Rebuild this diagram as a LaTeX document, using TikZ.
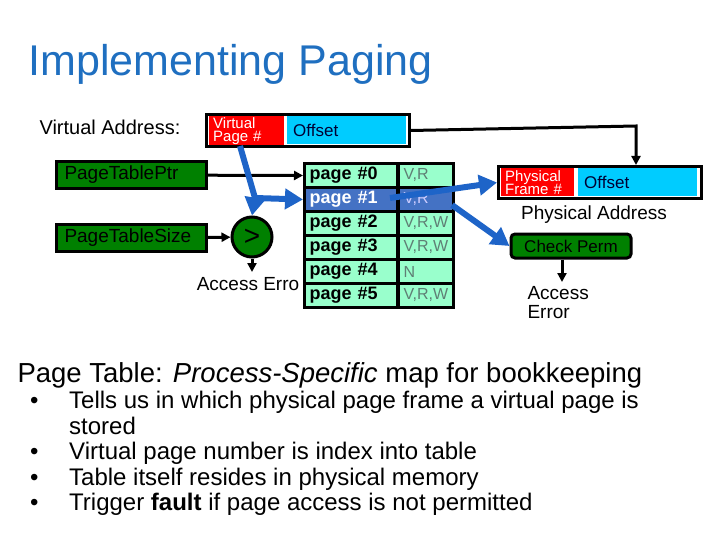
\documentclass[tikz,border=0pt]{standalone}
\usepackage{fontspec}
\setmainfont{Liberation Sans}
\usetikzlibrary{arrows.meta}
\definecolor{ttl}{HTML}{1F6FC0}
\definecolor{aq}{HTML}{99FFCC}
\definecolor{selb}{HTML}{4472C4}
\definecolor{gbox}{HTML}{008000}
\definecolor{cy}{HTML}{00CCFF}
\definecolor{rd}{HTML}{FF0000}
\definecolor{barr}{HTML}{1E64C8}
\definecolor{flg}{HTML}{5F7F75}
\tikzset{
 fs/.style={font=\fontsize{#1}{#1}\selectfont},
 cell/.style={draw=black,line width=3pt,fill=aq,minimum height=24pt,anchor=north west,inner ysep=2pt,inner xsep=5pt},
 gb/.style={draw=black,line width=3pt,fill=gbox,inner ysep=3pt,inner xsep=8pt,anchor=north west,minimum height=27pt,minimum width=150pt,text width=134pt,align=left,fs=19},
 blk/.style={line width=3pt,-{Triangle[length=9pt,width=9pt]}},
 blu/.style={barr,line width=6pt,-{Triangle[length=18pt,width=20pt]}},
 rbox/.style={fill=rd,anchor=north west,inner ysep=1pt,inner xsep=4pt,text=white,fs=15,align=left,minimum height=28pt},
 cbox/.style={fill=cy,anchor=north west,inner ysep=4pt,inner xsep=6pt,fs=17,text=black!80!blue,minimum height=28pt,align=left}
}
\begin{document}
\begin{tikzpicture}[x=1pt,y=-1pt]
\useasboundingbox (0,0) rectangle (720,540);
\node[anchor=base west,text=ttl,fs=43] (title) at (25,76) {Implementing Paging};
\node[anchor=base west,fs=20] (va) at (36,135) {Virtual Address:};
% virtual address box
\node[draw=black,line width=3pt,anchor=north west,minimum width=203pt,minimum height=32pt,inner sep=0] (vab) at (205,113) {};
\node[rbox,minimum width=75pt,text width=67pt] (vpn) at (209,116) {Virtual\\[-2pt]Page \#};
\node[cbox,minimum width=119pt,text width=107pt] (voff) at (287,116) {Offset};
% table
\foreach \i/\f in {0/{V,R},1/{V,R},2/{V,R,W},3/{V,R,W},4/N,5/{V,R,W}}{
 \node[cell,minimum width=93pt,font=\bfseries\fontsize{18}{18}\selectfont,align=left,text width=83pt] (p\i) at (303,162+24*\i) {page \#\i};
 \node[cell,minimum width=55pt,fs=16,text=flg,text width=45pt,align=left,inner xsep=3pt] (f\i) at (397,162+24*\i) {\f};
}
\node[cell,fill=selb,minimum width=93pt,font=\bfseries\fontsize{18}{18}\selectfont,text=white,text width=83pt,align=left] at (303,186) {page \#1};
\node[cell,fill=selb,minimum width=55pt,fs=16,text=white!80!blue,text width=45pt,align=left,inner xsep=3pt] at (397,186) {V,R};
% green boxes
\node[gb] (ptp) at (55,160) {PageTablePtr};
\node[gb] (pts) at (55,223) {PageTableSize};
\node[circle,draw=black,line width=3pt,fill=gbox,minimum size=40pt,inner sep=0,fs=28] (cmp) at (252,237) {>};
\coordinate (ae1) at (252,272);
\node[fs=19,anchor=base] (acc) at (248,290) {Access Erro};
% redraw table cell over text
\node[cell,minimum width=93pt,font=\bfseries\fontsize{18}{18}\selectfont,align=left,text width=83pt] at (303,282) {page \#5};
\draw[blk] (ptp) -- (p0.west);
\draw[blk] (pts) -- (cmp);
\draw[blk] (cmp) -- (ae1);
% blue arrows
\coordinate (bj) at (255,198);
\draw[barr,line width=6pt] (240,146) -- (bj);
\draw[blu] (bj) -- (cmp.north);
\draw[blu] (bj) -- (p1.west);
% physical
\node[draw=black,line width=3pt,anchor=north west,minimum width=203pt,minimum height=32pt,inner sep=0] (pab) at (497,165) {};
\node[rbox,minimum width=73pt,text width=65pt] (pfn) at (501,168) {Physical\\[-2pt]Frame \#};
\node[cbox,minimum width=119pt,text width=107pt] (poff) at (578,168) {Offset};
\node[fs=19] (paddr) at (594,215) {Physical Address};
\node[draw=black,line width=3pt,fill=gbox,rounded corners=4pt,minimum width=120pt,minimum height=24pt,inner sep=1pt,fs=17] (chk) at (571,246) {Check Perm};
\coordinate (ae2) at (562,282);
\node[fs=19,anchor=north west,align=left] (acc2) at (524,283) {Access\\Error};
\draw[blk] (chk.south -| ae2) -- (ae2);
\draw[blu] (390,198) -- (pab.west);
\draw[blu] (452,205) -- (chk.west);
\draw[line width=3pt,-{Triangle[length=9pt,width=9pt]}] (vab.east) -- (636,126) -- (pab.north -| 636,0);
% bottom text
\node[anchor=base west,fs=27.5] (h) at (14,382) {Page Table: \textit{Process-Specific} map for bookkeeping};
\foreach \y/\t in {408/Tells us in which physical page frame a virtual page is,459/Virtual page number is index into table,485/Table itself resides in physical memory,510/Trigger \textbf{fault} if page access is not permitted}{
 \node[anchor=base west,fs=24,inner sep=0] at (30,\y) {•};
 \node[anchor=base west,fs=24,inner sep=0] at (69,\y) {\t};
}
\node[anchor=base west,fs=24,inner sep=0] (st) at (69,434) {stored};
\end{tikzpicture}
\end{document}
